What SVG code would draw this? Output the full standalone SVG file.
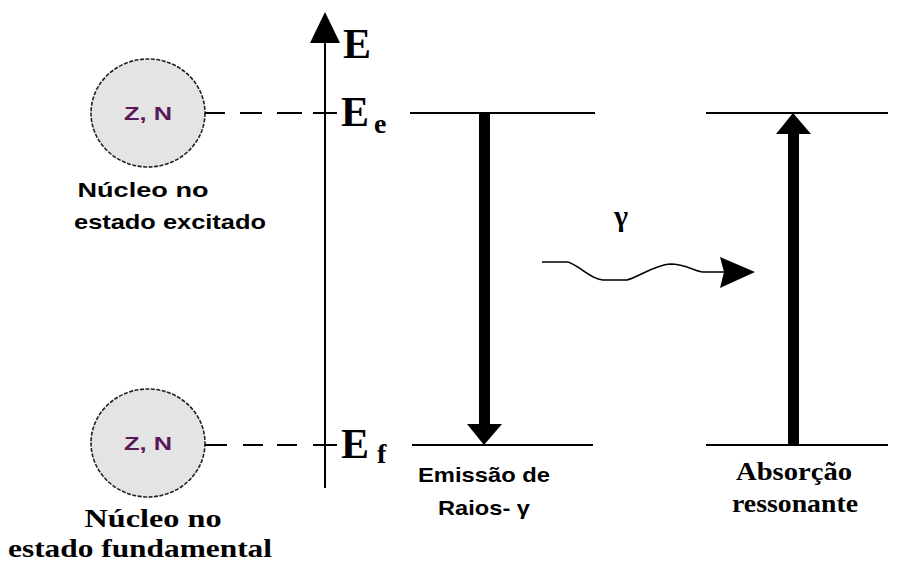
<svg xmlns="http://www.w3.org/2000/svg" width="898" height="564" viewBox="0 0 898 564">
<style>
.ln{stroke:#000;stroke-width:2;fill:none}
.nuc{fill:#e4e4e4;stroke:#222;stroke-width:1.6;stroke-dasharray:4 1.5}
.zn{font-family:"Liberation Sans",Arial,sans-serif;font-weight:bold;font-size:19px;fill:#5a1a5a;text-anchor:middle}
.sans{font-family:"Liberation Sans",Arial,sans-serif;font-weight:bold;font-size:21px;fill:#000;text-anchor:middle}
.serif{font-family:"Liberation Serif","Times New Roman",serif;font-weight:bold;fill:#000}
.lbl{font-family:"Liberation Serif","Times New Roman",serif;font-weight:bold;font-size:25px;fill:#000;text-anchor:middle}
</style>
<rect width="898" height="564" fill="#fff"/>
<g id="axis">
  <line class="ln" x1="325" y1="38" x2="325" y2="488"/>
  <polygon points="325,12 340,43 310,43" fill="#000"/>
  <text class="serif" x="343" y="58" font-size="42">E</text>
</g>
<g id="level-Ee">
  <line class="ln" x1="313" y1="113" x2="337" y2="113"/>
  <text class="serif" x="341" y="126" font-size="42">E</text>
  <text class="serif" x="374" y="133" font-size="28">e</text>
  <line class="ln" x1="410" y1="113" x2="595" y2="113"/>
  <line class="ln" x1="706" y1="113" x2="888" y2="113"/>
</g>
<g id="level-Ef">
  <line class="ln" x1="313" y1="445" x2="337" y2="445"/>
  <text class="serif" x="341" y="458" font-size="42">E</text>
  <text class="serif" x="377" y="463" font-size="28">f</text>
  <line class="ln" x1="412" y1="445" x2="593" y2="445"/>
  <line class="ln" x1="706" y1="445" x2="888" y2="445"/>
</g>
<g id="nucleus-excited">
  <ellipse class="nuc" cx="148" cy="113" rx="57" ry="54"/>
  <text class="zn" x="148" y="120" textLength="48" lengthAdjust="spacingAndGlyphs">Z, N</text>
  <text class="sans" x="143" y="197" textLength="131" lengthAdjust="spacingAndGlyphs">Núcleo no</text>
  <text class="sans" x="170" y="229" textLength="192" lengthAdjust="spacingAndGlyphs">estado excitado</text>
</g>
<g id="nucleus-ground">
  <ellipse class="nuc" cx="148" cy="443" rx="57" ry="54"/>
  <text class="zn" x="148" y="450" textLength="48" lengthAdjust="spacingAndGlyphs">Z, N</text>
  <text class="lbl" x="153" y="527" textLength="137" lengthAdjust="spacingAndGlyphs">Núcleo no</text>
  <text class="lbl" x="140" y="557" textLength="264" lengthAdjust="spacingAndGlyphs">estado fundamental</text>
</g>
<g id="emission">
  <text class="sans" x="484" y="482" textLength="132" lengthAdjust="spacingAndGlyphs">Emissão de</text>
  <text class="sans" x="484" y="515" textLength="92" lengthAdjust="spacingAndGlyphs">Raios- γ</text>
</g>
<g id="absorption">
  <text class="lbl" x="794" y="480" textLength="116" lengthAdjust="spacingAndGlyphs">Absorção</text>
  <text class="lbl" x="795" y="512" textLength="126" lengthAdjust="spacingAndGlyphs">ressonante</text>
</g>
<g id="photon">
  <text class="serif" x="621" y="226" font-size="30" text-anchor="middle" font-weight="normal">γ</text>
</g>
<g id="connectors">
  <path class="ln" d="M205,113 H225 M240,113 H262 M277,113 H302"/>
  <path class="ln" d="M205,445 H227 M243,445 H263 M277,445 H297"/>
  <rect x="479" y="113" width="11" height="314" fill="#000"/>
  <polygon points="467,424 502,424 484,445" fill="#000"/>
  <rect x="788" y="132" width="11" height="313" fill="#000"/>
  <polygon points="776,134 811,134 793,113" fill="#000"/>
  <path d="M542,262 L568,262 C582,267 590,279 603,280 L627,280 C640,276 655,265 670,264 C686,264 694,271 703,272 L724,272" stroke="#000" stroke-width="1.6" fill="none"/>
  <polygon points="720,257 755,272 720,288 724,272" fill="#000"/>
</g>
</svg>
